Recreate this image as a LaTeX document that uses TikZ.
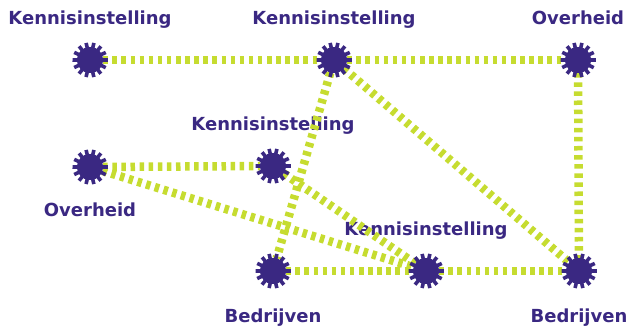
\documentclass[tikz,border=0pt]{standalone}
\usepackage{fontspec}
\setmainfont{DejaVu Sans}
\usetikzlibrary{positioning}

\definecolor{netpurple}{RGB}{58,40,130}
\definecolor{netgreen}{RGB}{198,220,48}

\begin{document}
\begin{tikzpicture}[x=1pt,y=-1pt,node distance=40pt,on grid]
       \tikzset{
         actor/.style={circle,fill=netpurple,inner sep=0pt,minimum size=26pt},
         lbl/.style={text=netpurple,font=\fontsize{18}{20}\selectfont\bfseries,
                     inner sep=0pt,text height=13pt,text depth=4pt},
         link/.style={draw=netgreen,line width=8.5pt,dash pattern=on 4.5pt off 4.6pt}
       }
       \useasboundingbox (0,0) rectangle (629,328);

       \node[actor] (A) at (90,60) {};
       \node[actor] (B) at (334,60) {};
       \node[actor] (C) at (578,60) {};
       \node[actor] (D) at (90,167) {};
       \node[actor] (E) at (273,166) {};
       \node[actor] (F) at (273,271) {};
       \node[actor] (G) at (426,271) {};
       \node[actor] (H) at (579,271) {};

       % labels
       \node[lbl] (lA) [above=of A] {Kennisinstelling};
       \node[lbl] (lB) [above=of B] {Kennisinstelling};
       \node[lbl] (lC) [above=of C] {Overheid};
       \node[lbl] (lE) [above=of E] {Kennisinstelling};
       \node[lbl] (lG) [above=of G] {Kennisinstelling};
       \node[lbl] (lD) [below=45pt of D] {Overheid};
       \node[lbl] (lF) [below=47pt of F] {Bedrijven};
       \node[lbl] (lH) [below=47pt of H] {Bedrijven};

       \path[link]
       (A) edge (B)
       (B) edge (C)
       edge (H)
       edge (F)
       (C) edge (H)
       (D) edge (E)
       edge (G)
       (E) edge (G)
       (F) edge (G)
       (G) edge (H);

       % gear teeth
       \foreach \n in {A,B,C,D,E,F,G,H} {
         \node[actor] at (\n) {};
         \foreach \a in {0,25.7,...,340}
           \draw[netpurple,line width=3.6pt] (\n) ++(\a:11pt) -- ++(\a:6.5pt);
       }
     \end{tikzpicture}
\end{document}
